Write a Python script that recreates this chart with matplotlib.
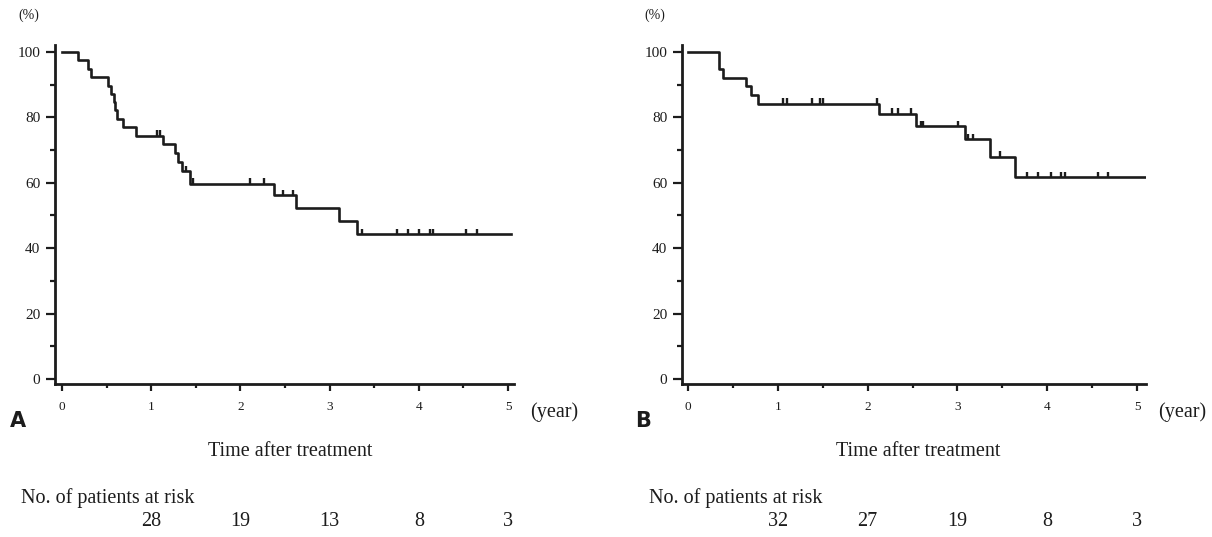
import numpy as np
import matplotlib.pyplot as plt
from matplotlib.ticker import MultipleLocator
from matplotlib.transforms import blended_transform_factory

plt.rcParams['font.family'] = ['Liberation Serif', 'DejaVu Serif']

# panel A: step times (year) and survival (%)
a_times = [0, 0.185, 0.29, 0.33, 0.52, 0.55, 0.58, 0.60, 0.62, 0.68, 0.83, 1.13,
           1.27, 1.30, 1.35, 1.44, 2.38, 2.62, 3.11, 3.31]
a_surv = [100, 97.4, 94.9, 92.3, 89.7, 87.2, 84.6, 82.1, 79.5, 76.9, 74.4, 71.8,
          69.0, 66.3, 63.5, 59.7, 56.2, 52.2, 48.2, 44.2]
a_end = 5.03
a_censor = [1.06, 1.10, 1.39, 1.47, 2.11, 2.27, 2.48, 2.59, 3.36, 3.76, 3.88,
            4.00, 4.12, 4.16, 4.53, 4.65]
a_risk = [28, 19, 13, 8, 3]

# panel B
b_times = [0, 0.34, 0.39, 0.65, 0.70, 0.78, 2.13, 2.54, 3.08, 3.36, 3.64]
b_surv = [100, 94.8, 92.1, 89.5, 86.8, 84.2, 81.0, 77.2, 73.3, 68.0, 61.6]
b_end = 5.09
b_censor = [1.06, 1.10, 1.38, 1.47, 1.50, 2.11, 2.27, 2.34, 2.48, 2.59, 2.62,
            3.01, 3.12, 3.17, 3.47, 3.78, 3.90, 4.04, 4.15, 4.20, 4.56, 4.68]
b_risk = [32, 27, 19, 8, 3]

risk_years = [1, 2, 3, 4, 5]

W, H = 1212, 537
INK = '#1c1c1c'
fig = plt.figure(figsize=(W / 100, H / 100), dpi=100)


def px(x, y):
    return x / W, 1 - y / H


def km_panel(rect, xlim, times, surv, end, censor):
    ax = fig.add_axes(rect)
    t = list(times) + [end]
    s = list(surv) + [surv[-1]]
    ax.step(t, s, where='post', color=INK, lw=1.9)
    # censor ticks sit on the curve
    idx = np.searchsorted(times, censor, side='right') - 1
    cs = np.array(surv)[idx]
    ax.vlines(censor, cs, cs + 1.7, color=INK, lw=1.7)
    ax.set_xlim(*xlim)
    ax.set_ylim(-1.53, 102.1)
    for sp in ['top', 'right']:
        ax.spines[sp].set_visible(False)
    for sp in ['left', 'bottom']:
        ax.spines[sp].set_linewidth(2.0)
        ax.spines[sp].set_color(INK)
    ax.set_xticks(range(6))
    ax.xaxis.set_minor_locator(MultipleLocator(0.5))
    ax.set_yticks(range(0, 101, 20))
    ax.yaxis.set_minor_locator(MultipleLocator(10))
    ax.tick_params(axis='y', which='major', direction='out', length=6.5, width=1.6,
                   color=INK, labelsize=11, labelcolor=INK, pad=4)
    ax.tick_params(axis='y', which='minor', direction='out', length=3.5, width=1.6,
                   color=INK)
    ax.tick_params(axis='x', which='major', direction='out', length=5, width=1.6,
                   color=INK, labelsize=9.5, labelcolor=INK, pad=7)
    ax.tick_params(axis='x', which='minor', direction='out', length=3, width=1.6,
                   color=INK)
    return ax


axA = km_panel([55 / W, 1 - 384 / H, (514 - 55) / W, (384 - 45) / H],
               (-0.078, 5.067), a_times, a_surv, a_end, a_censor)
axB = km_panel([682 / W, 1 - 384 / H, (1146 - 682) / W, (384 - 45) / H],
               (-0.067, 5.10), b_times, b_surv, b_end, b_censor)

for ax, lab, lab_x, pct_x, year_x, risk_x, risk in [
        (axA, 'A', 18, 29, 554, 21, a_risk),
        (axB, 'B', 643, 655, 1182, 649, b_risk)]:
    tr = blended_transform_factory(ax.transData, fig.transFigure)
    fig.text(*px(pct_x, 15), '(%)', fontsize=10, ha='center', va='center', color=INK)
    fig.text(*px(lab_x, 421), lab, fontsize=15, fontweight='bold',
             family='DejaVu Sans', ha='center', va='center', color=INK)
    fig.text(*px(year_x, 412), '(year)', fontsize=14.5, ha='center', va='center',
             color=INK)
    fig.text(2.56, 1 - 451 / H, 'Time after treatment', transform=tr,
             fontsize=14.5, ha='center', va='center', color=INK)
    fig.text(*px(risk_x, 498), 'No. of patients at risk', fontsize=14.5,
             ha='left', va='center', color=INK)
    for yr, n in zip(risk_years, risk):
        fig.text(yr, 1 - 522 / H, str(n), transform=tr,
                 fontsize=14.5, ha='center', va='center', color=INK)

fig.savefig('out.png', dpi=100, facecolor='white')
